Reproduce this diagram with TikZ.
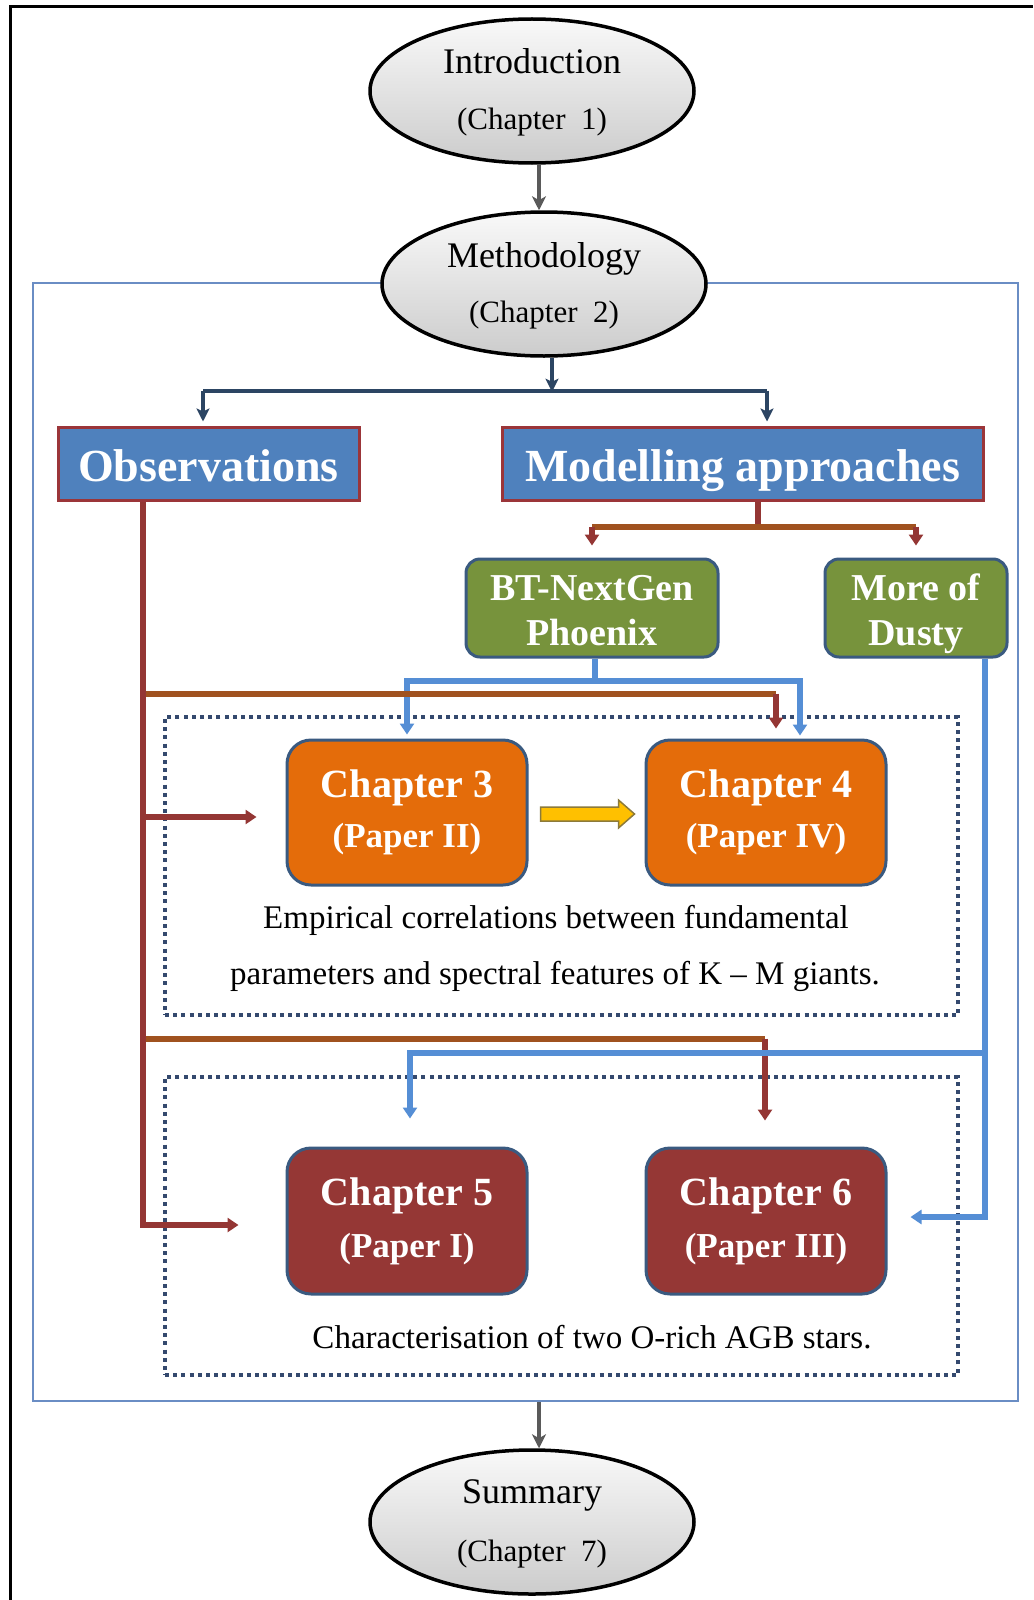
\documentclass[tikz,border=0pt]{standalone}
\usepackage{fontspec}
\setmainfont{Liberation Serif}
\usetikzlibrary{arrows.meta,calc,shapes.geometric}
\newcommand{\myfs}[2]{\fontsize{#1}{#2}\selectfont}
\definecolor{gline}{HTML}{5A5A5A}
\definecolor{navyc}{HTML}{2C4563}
\definecolor{boxblue}{HTML}{4F81BD}
\definecolor{obsborder}{HTML}{9B3539}
\definecolor{redc}{HTML}{943634}
\definecolor{brownc}{HTML}{A0521F}
\definecolor{greenf}{HTML}{77933C}
\definecolor{bordblue}{HTML}{3A5A80}
\definecolor{bluec}{HTML}{558ED5}
\definecolor{orangef}{HTML}{E46C0A}
\definecolor{darkredf}{HTML}{953735}
\definecolor{yellowf}{HTML}{FFC000}
\definecolor{yborder}{HTML}{8C7A3A}
\definecolor{dotc}{HTML}{34496E}
\definecolor{framec}{HTML}{6A8DC4}
\begin{document}
\begin{tikzpicture}[x=1pt,y=-1pt,
  ellip/.style={ellipse, draw=black, line width=3.5pt, top color=gray!5, bottom color=gray!40,
    minimum width=324pt, minimum height=144pt, inner sep=0pt},
  etext/.style={anchor=base, font=\myfs{36}{40}},
  ctext/.style={anchor=base, font=\myfs{31}{36}},
  framebox/.style={draw=framec, line width=2pt, inner sep=0pt},
  dotbox/.style={draw=dotc, line width=4pt, dash pattern=on 4pt off 4.2pt, inner sep=0pt},
  bluebox/.style={rectangle, draw=obsborder, line width=3pt, fill=boxblue, inner sep=0pt},
  bigtext/.style={anchor=base, text=white, font=\bfseries\myfs{46}{50}},
  greenbox/.style={rectangle, rounded corners=14pt, draw=bordblue, line width=3pt, fill=greenf,
    inner sep=0pt, minimum height=98pt},
  gtext/.style={anchor=base, text=white, font=\bfseries\myfs{38}{42}},
  orbox/.style={rectangle, rounded corners=24pt, draw=bordblue, line width=3pt, fill=orangef,
    inner sep=0pt, minimum width=240pt, minimum height=145pt},
  drbox/.style={orbox, fill=darkredf},
  chtext/.style={anchor=base, text=white, font=\bfseries\myfs{40}{44}},
  ptext/.style={anchor=base, text=white, font=\bfseries\myfs{35}{40}},
  captext/.style={anchor=base, font=\myfs{33}{38}},
  grayarr/.style={draw=gline, line width=3.5pt, -{Stealth[length=14pt,width=14pt,inset=4pt]}},
  navyline/.style={draw=navyc, line width=4pt},
  navyarr/.style={navyline, -{Stealth[length=13pt,width=13pt,inset=3pt]}},
  redl/.style={draw=redc, line width=6pt},
  brownl/.style={draw=brownc, line width=6pt},
  redarr/.style={redl, -{Triangle[length=11pt,width=14pt]}},
  bluel/.style={draw=bluec, line width=6pt},
  bluearr/.style={bluel, -{Triangle[length=11pt,width=14pt]}}
]
\useasboundingbox (0,0) rectangle (1033,1600);
\fill[white] (0,0) rectangle (1033,1600);
\draw[black, line width=3pt] (10,1600) -- (10,7) -- (1033,7);

% frames
\node[framebox, minimum width=985pt, minimum height=1118pt] (frame) at (525.5,842) {};
\node[dotbox, minimum width=793pt, minimum height=298pt] (grp1) at (561.5,866) {};
\node[dotbox, minimum width=793pt, minimum height=298pt] (grp2) at (561.5,1226) {};

% ellipses
\node[ellip] (intro) at (532,91) {};
\node[etext] (introA) at ($(intro.center)+(0,-17)$) {Introduction};
\node[ctext] (introB) at ($(intro.center)+(0,39)$) {(Chapter\ \ 1)};
\node[ellip] (meth) at (544,284) {};
\node[etext] (methA) at ($(meth.center)+(0,-17)$) {Methodology};
\node[ctext] (methB) at ($(meth.center)+(0,38)$) {(Chapter\ \ 2)};
\node[ellip] (summ) at (532,1522) {};
\node[etext] (summA) at ($(summ.center)+(0,-19)$) {Summary};
\node[ctext] (summB) at ($(summ.center)+(0,39)$) {(Chapter\ \ 7)};

% blue boxes
\node[bluebox, minimum width=301pt, minimum height=73pt] (obs) at (208.5,463.5) {};
\node[bigtext] (obsT) at ($(obs.center)+(0,18)$) {Observations};
\node[bluebox, minimum width=481pt, minimum height=73pt] (mod) at (742.5,463.5) {};
\node[bigtext] (modT) at ($(mod.center)+(0,18)$) {Modelling approaches};

% green boxes
\node[greenbox, minimum width=252pt] (bt) at (592,608) {};
\node[gtext] (btA) at ($(bt.center)+(0,-8)$) {BT-NextGen};
\node[gtext] (btB) at ($(bt.center)+(0,37)$) {Phoenix};
\node[greenbox, minimum width=182pt] (dusty) at (916,608) {};
\node[gtext] (duA) at ($(dusty.center)+(0,-8)$) {More of};
\node[gtext] (duB) at ($(dusty.center)+(0,37)$) {Dusty};

% chapter boxes
\node[orbox] (ch3) at (407,812.5) {};
\node[chtext] (ch3A) at ($(ch3.center)+(0,-15)$) {Chapter 3};
\node[ptext] (ch3B) at ($(ch3.center)+(0,35)$) {(Paper II)};
\node[orbox] (ch4) at (766,812.5) {};
\node[chtext] (ch4A) at ($(ch4.center)+(0,-15)$) {Chapter 4};
\node[ptext] (ch4B) at ($(ch4.center)+(0,35)$) {(Paper IV)};
\node[drbox, minimum height=146pt] (ch5) at (407,1221) {};
\node[chtext] (ch5A) at ($(ch5.center)+(0,-16)$) {Chapter 5};
\node[ptext] (ch5B) at ($(ch5.center)+(0,36)$) {(Paper I)};
\node[drbox, minimum height=146pt] (ch6) at (766,1221) {};
\node[chtext] (ch6A) at ($(ch6.center)+(0,-16)$) {Chapter 6};
\node[ptext] (ch6B) at ($(ch6.center)+(0,36)$) {(Paper III)};

% captions
\node[captext] (cap1a) at (556,928) {Empirical correlations between fundamental};
\node[captext] (cap1b) at (555,984) {parameters and spectral features of K – M giants.};
\node[captext] (cap2) at (592,1348) {Characterisation of two O-rich AGB stars.};

% gray arrows
\coordinate (ia) at ($(intro.south)+(7,0)$);
\draw[grayarr] (ia) -- (ia |- meth.north);
\coordinate (fa) at ($(frame.south)+(13.5,0)$);
\draw[grayarr] (fa) -- (fa |- summ.north);

% methodology branches
\coordinate (nb) at ($(meth.south)+(8,36)$);
\coordinate (nbL) at ($(obs.north)+(-5.5,-35)$);
\coordinate (nbR) at ($(mod.north)+(24.5,-35)$);
\draw[navyarr] (nb |- meth.south) -- ($(nb)+(0,-2)$);
\draw[navyline] (nbL) -- (nbR);
\draw[navyarr, shorten >=4pt] (nbL) -- (nbL |- obs.north);
\draw[navyarr, shorten >=4pt] (nbR) -- (nbR |- mod.north);

% modelling branches
\coordinate (mb) at ($(mod.south)+(15.5,25)$);
\draw[redl] (mb |- mod.south) -- (mb);
\draw[brownl] (mb -| bt.north) -- (mb -| dusty.north);
\draw[redarr, shorten >=12pt] (mb -| bt.north) -- (bt.north);
\draw[redarr, shorten >=12pt] (mb -| dusty.north) -- (dusty.north);

% BT-NextGen branches
\coordinate (bb) at ($(bt.south)+(3,22)$);
\coordinate (c4in) at ($(ch4.north)+(34,0)$);
\draw[bluel] (bb |- bt.south) -- (bb);
\draw[bluel, {Triangle[length=11pt,width=14pt]}-{Triangle[length=11pt,width=14pt]},
  shorten <=4pt, shorten >=3pt] (ch3.north) |- (bb) -| (c4in);

% observations branches
\coordinate (ov) at ($(obs.south)+(-66,0)$);
\coordinate (b1) at ($(ch4.north)+(10,-45)$);
\coordinate (b2) at ($(ch6.north)+(-1,-108)$);
\draw[brownl] (b1 -| ov) -- (b1);
\draw[redarr] (b1) -- ($(ch4.north)+(10,-10)$);
\draw[brownl] (b2 -| ov) -- (b2);
\draw[redarr, shorten >=26pt] (b2) -- ($(ch6.north)+(-1,0)$);
\draw[redarr, shorten >=47pt] (ov) |- ($(ch5.west)+(0,4)$);
\coordinate (r3) at ($(ch3.west)+(0,4.5)$);
\draw[redarr, shorten >=29pt] (r3 -| ov) -- (r3);

% dusty branches
\coordinate (dv) at ($(dusty.south)+(69,0)$);
\coordinate (d5) at ($(ch5.north)+(3,0)$);
\coordinate (dy) at ($(ch5.north)+(3,-94)$);
\draw[bluearr, shorten >=23pt] (dv) |- ($(ch6.east)+(0,-4)$);
\draw[bluearr, shorten >=28pt] (dy -| dv) -| (d5);

% yellow block arrow
\coordinate (ya) at ($(ch3.east)+(12,1.5)$);
\coordinate (yb) at ($(ch4.west)+(-10,1.5)$);
\filldraw[fill=yellowf, draw=yborder, line width=1.5pt]
  ($(ya)+(0,-7)$) -- ($(yb)+(-16,-7)$) -- ($(yb)+(-16,-14)$) -- (yb)
  -- ($(yb)+(-16,14)$) -- ($(yb)+(-16,7)$) -- ($(ya)+(0,7)$) -- cycle;
\end{tikzpicture}
\end{document}
